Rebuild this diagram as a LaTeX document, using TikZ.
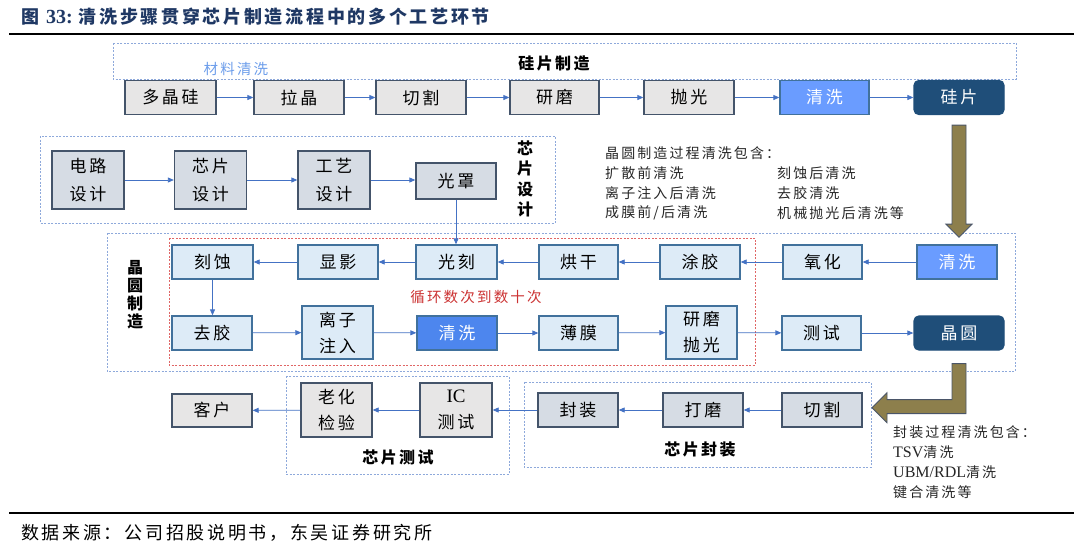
\documentclass[tikz,border=0pt]{standalone}
\usepackage{fontspec}
\setmainfont{Noto Sans CJK SC}
\newfontfamily\cjk[LetterSpace=15]{Noto Sans CJK SC}
\newfontfamily\lat{Liberation Serif}
\usetikzlibrary{arrows.meta,calc}
\definecolor{titleblue}{HTML}{1F3864}
\definecolor{bordc}{HTML}{44546A}
\definecolor{grayf}{HTML}{E7E6E6}
\definecolor{bgrayf}{HTML}{D6DCE4}
\definecolor{wfill}{HTML}{DDEBF7}
\definecolor{wbord}{HTML}{41719C}
\definecolor{cleanA}{HTML}{6A9CFF}
\definecolor{cleanB}{HTML}{4D86EE}
\definecolor{navy}{HTML}{1F4E79}
\definecolor{arrowc}{HTML}{4472C4}
\definecolor{grpc}{HTML}{8EA9DB}
\definecolor{redgrp}{HTML}{E06666}
\definecolor{redtxt}{HTML}{CC3333}
\definecolor{lblue}{HTML}{6D9EEB}
\definecolor{olive}{HTML}{8D7F4C}
\definecolor{olivebd}{HTML}{4A5568}
\definecolor{txt}{HTML}{262626}
\begin{document}
\begin{tikzpicture}[x=1pt,y=-1pt,
  boxbase/.style={draw=bordc,line width=1.3pt,inner sep=0pt,align=center,text=black,
     font=\cjk\fontsize{17}{26}\selectfont},
  gbox/.style={boxbase,fill=grayf},
  bgbox/.style={boxbase,fill=bgrayf},
  wbox/.style={boxbase,fill=wfill,draw=wbord},
  cboxA/.style={boxbase,fill=cleanA,draw=wbord,text=white},
  cboxB/.style={boxbase,fill=cleanB,draw=wbord,text=white},
  nbox/.style={boxbase,fill=navy,draw=navy,rounded corners=5pt,text=white},
  arr/.style={draw=arrowc,line width=0.8pt,-{Triangle[length=6pt,width=5pt]}},
  grp/.style={draw=grpc,line width=0.8pt,dash pattern=on 2pt off 1.5pt},
  redbox/.style={draw=redgrp,line width=0.8pt,dash pattern=on 2pt off 1.5pt},
  glabel/.style={inner sep=0pt,font=\cjk\bfseries\fontsize{16}{18}\selectfont,text=black,align=center},
  note/.style={inner sep=0pt,anchor=west,font=\cjk\fontsize{14}{16}\selectfont,text=txt},
  bigarrow/.style={fill=olive,draw=olivebd,line width=0.9pt,line join=miter}
]
\useasboundingbox (0,0) rectangle (1080,549);
\fill[white] (0,0) rectangle (1080,549);

% title and rules
\node[anchor=west,inner sep=0pt,text=titleblue,font=\cjk\bfseries\fontsize{18}{20}\selectfont] (title) at (21,17)
  {图 {\lat\bfseries\fontsize{20}{20}\selectfont 33:}\hspace{6pt}清洗步骤贯穿芯片制造流程中的多个工艺环节};
\draw[line width=2pt,black] (9,34) -- (1074,34);
\draw[line width=2pt,black] (9,513) -- (1074,513);
\node[anchor=west,inner sep=0pt,text=black,font=\cjk\fontsize{18}{20}\selectfont] (foot) at (21,533)
  {数据来源：公司招股说明书，东吴证券研究所};

% groups
\draw[grp] (113,43) rectangle (1016,79);
\draw[grp] (40,136) rectangle (555,223);
\draw[grp] (107,233) rectangle (1015,371);
\draw[redbox] (169,238) rectangle (755,365);
\draw[grp] (286,376) rectangle (509,474);
\draw[grp] (524,382) rectangle (871,467);

\node[glabel] (lsi) at (554,63) {硅片制造};
\node[inner sep=0pt,text=lblue,font=\cjk\fontsize{14.5}{16}\selectfont] (lmat) at (236,69) {材料清洗};
\node[glabel,font=\cjk\bfseries\fontsize{16}{20.5}\selectfont] (lcd) at (525,179) {芯\\片\\设\\计};
\node[glabel] (lwf) at (135,295) {晶\\圆\\制\\造};
\node[inner sep=0pt,text=redtxt,font=\cjk\fontsize{14.5}{16}\selectfont] (lloop) at (476,297) {循环数次到数十次};
\node[glabel] (ltest) at (398,457) {芯片测试};
\node[glabel] (lpkg) at (700,449) {芯片封装};

% row 1: silicon wafer
\node[gbox,minimum width=91pt,minimum height=34pt] (dj) at (170.5,97.5) {多晶硅};
\node[gbox,minimum width=90pt,minimum height=34pt] (lj) at (299,97.5) {拉晶};
\node[gbox,minimum width=90pt,minimum height=34pt] (qg) at (421,97.5) {切割};
\node[gbox,minimum width=89pt,minimum height=34pt] (ym) at (554.5,97.5) {研磨};
\node[gbox,minimum width=90pt,minimum height=34pt] (pg) at (689,97.5) {抛光};
\node[cboxA,minimum width=89pt,minimum height=34pt] (qx1) at (824.5,97.5) {清洗};
\node[nbox,minimum width=90pt,minimum height=34pt] (gp) at (959,97.5) {硅片};

% chip design
\node[bgbox,minimum width=72pt,minimum height=58pt,font=\cjk\fontsize{17}{28}\selectfont] (dl) at (88,180) {电路\\设计};
\node[bgbox,minimum width=72pt,minimum height=58pt,font=\cjk\fontsize{17}{28}\selectfont] (xp) at (210.5,180) {芯片\\设计};
\node[bgbox,minimum width=72pt,minimum height=58pt,font=\cjk\fontsize{17}{28}\selectfont] (gy) at (334,180) {工艺\\设计};
\node[bgbox,minimum width=80pt,minimum height=36pt] (gz) at (456,181) {光罩};

% wafer row 2
\node[wbox,minimum width=81pt,minimum height=34pt] (ks) at (212.5,262) {刻蚀};
\node[wbox,minimum width=80pt,minimum height=34pt] (xy) at (338,262) {显影};
\node[wbox,minimum width=81pt,minimum height=34pt] (gk) at (456.5,262) {光刻};
\node[wbox,minimum width=79pt,minimum height=34pt] (hg) at (578.5,262) {烘干};
\node[wbox,minimum width=80pt,minimum height=34pt] (tj) at (700,262) {涂胶};
\node[wbox,minimum width=79pt,minimum height=34pt] (yh) at (822.5,262) {氧化};
\node[cboxA,minimum width=80pt,minimum height=34pt] (qx2) at (957,262) {清洗};

% wafer row 3
\node[wbox,minimum width=80pt,minimum height=34pt] (qj) at (212,333) {去胶};
\node[wbox,minimum width=71pt,minimum height=53pt] (lz) at (337.5,332.5) {离子\\注入};
\node[cboxB,minimum width=80pt,minimum height=34pt] (qx3) at (457,333) {清洗};
\node[wbox,minimum width=79pt,minimum height=34pt] (bm) at (578.5,333) {薄膜};
\node[wbox,minimum width=71pt,minimum height=53pt] (ympg) at (701.5,332.5) {研磨\\抛光};
\node[wbox,minimum width=79pt,minimum height=34pt] (cs) at (821.5,333) {测试};
\node[nbox,minimum width=90pt,minimum height=34pt] (jy) at (959,333) {晶圆};

% bottom row
\node[gbox,minimum width=80pt,minimum height=33pt] (kh) at (212,410.5) {客户};
\node[gbox,minimum width=71pt,minimum height=54pt] (lh) at (336.5,410) {老化\\检验};
\node[gbox,minimum width=72pt,minimum height=54pt] (ic) at (456,410) {{\lat\fontsize{19}{19}\selectfont IC}\\测试};
\node[bgbox,minimum width=80pt,minimum height=34pt] (fz) at (578,410) {封装};
\node[bgbox,minimum width=80pt,minimum height=34pt] (dm) at (703,410) {打磨};
\node[bgbox,minimum width=80pt,minimum height=34pt] (qg2) at (822,410) {切割};

% connectors
\draw[arr] (dj) -- (lj);
\draw[arr] (lj) -- (qg);
\draw[arr] (qg) -- (ym);
\draw[arr] (ym) -- (pg);
\draw[arr] (pg) -- (qx1);
\draw[arr] (qx1) -- (gp);
\draw[arr] (dl.east |- xp.east) -- (xp.west);
\draw[arr] (xp) -- (gy);
\draw[arr] (gy.east) -- (gz.west |- gy.east);
\draw[arr] (gz.south) -- (gz.south |- gk.north);
\draw[arr] (qx2) -- (yh);
\draw[arr] (yh) -- (tj);
\draw[arr] (tj) -- (hg);
\draw[arr] (hg) -- (gk);
\draw[arr] (gk) -- (xy);
\draw[arr] (xy) -- (ks);
\draw[arr] (ks.south) -- (ks.south |- qj.north);
\draw[arr] (qj) -- (lz);
\draw[arr] (lz) -- (qx3);
\draw[arr] (qx3) -- (bm);
\draw[arr] (bm) -- (ympg);
\draw[arr] (ympg) -- (cs);
\draw[arr] (cs) -- (jy);
\draw[arr] (qg2) -- (dm);
\draw[arr] (dm) -- (fz);
\draw[arr] (fz) -- (ic);
\draw[arr] (ic) -- (lh);
\draw[arr] (lh) -- (kh);

% big arrows
\draw[bigarrow] ($(gp.south)+(-7,10)$) -- ($(gp.south)+(7,10)$) -- ($(gp.south)+(7,109)$)
  -- ($(gp.south)+(13,109)$) -- ($(gp.south)+(0,122)$) -- ($(gp.south)+(-13,109)$)
  -- ($(gp.south)+(-7,109)$) -- cycle;
\draw[bigarrow] ($(jy.south)+(-7,13)$) -- ($(jy.south)+(7,13)$) -- ($(jy.south)+(7,63)$)
  -- ($(jy.south)+(-72,63)$) -- ($(jy.south)+(-72,72)$) -- ($(jy.south)+(-87,57)$)
  -- ($(jy.south)+(-72,42)$) -- ($(jy.south)+(-72,49)$) -- ($(jy.south)+(-7,49)$) -- cycle;

% notes
\node[note] (n0) at (605,153) {晶圆制造过程清洗包含：};
\node[note] (n1) at (605,173) {扩散前清洗};
\node[note] (n2) at (605,193) {离子注入后清洗};
\node[note] (n3) at (605,213) {成膜前/后清洗};
\node[note] (n4) at (777,173) {刻蚀后清洗};
\node[note] (n5) at (777,193) {去胶清洗};
\node[note] (n6) at (777,213) {机械抛光后清洗等};
\node[note] (p0) at (893,432) {封装过程清洗包含：};
\node[note] (p1) at (893,452) {{\lat\fontsize{16}{16}\selectfont TSV}清洗};
\node[note] (p2) at (893,472) {{\lat\fontsize{16}{16}\selectfont UBM/RDL}清洗};
\node[note] (p3) at (893,492) {键合清洗等};
\end{tikzpicture}
\end{document}
